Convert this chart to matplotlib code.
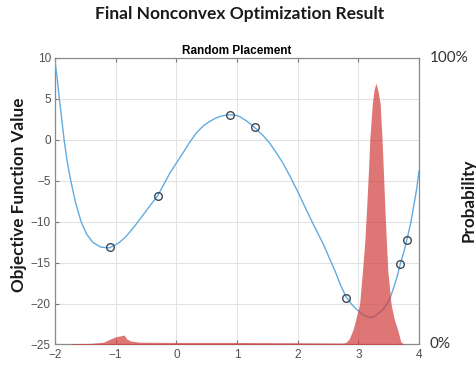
import matplotlib
matplotlib.use("Agg")
import matplotlib.pyplot as plt

# Objective function curve
curve_x = [-2.00, -1.96, -1.93, -1.89, -1.85, -1.80, -1.74, -1.66, -1.57, -1.48,
           -1.38, -1.25, -1.10, -0.95, -0.84, -0.72, -0.61, -0.50, -0.41, -0.31,
           -0.21, -0.11, 0.00, 0.11, 0.22, 0.33, 0.44, 0.55, 0.64, 0.72,
           0.80, 0.89, 0.97, 1.05, 1.17, 1.29, 1.42, 1.54, 1.65, 1.76,
           1.87, 2.00, 2.12, 2.27, 2.42, 2.52, 2.62, 2.71, 2.80, 2.89,
           2.97, 3.08, 3.19, 3.26, 3.33, 3.40, 3.47, 3.53, 3.58, 3.64,
           3.69, 3.75, 3.80, 3.86, 3.91, 3.96, 4.00]
curve_y = [9.6, 7.3, 5.1, 2.6, 0.0, -2.6, -5.0, -7.7, -10.0, -11.5,
           -12.5, -13.1, -13.2, -12.6, -11.9, -10.85, -9.8, -8.7, -7.8, -6.85,
           -5.5, -4.1, -2.85, -1.6, -0.3, 0.85, 1.68, 2.25, 2.62, 2.86,
           3.0, 3.07, 3.02, 2.82, 2.25, 1.51, 0.6, -0.41, -1.6, -2.87,
           -4.4, -6.3, -8.2, -10.5, -12.7, -14.4, -16.1, -17.8, -19.2, -20.1,
           -20.7, -21.4, -21.7, -21.6, -21.2, -20.8, -20.1, -19.2, -18.1, -16.7,
           -15.2, -13.7, -12.2, -10.3, -8.2, -6.1, -3.8]

# Final points
pts_x = [-1.10, -0.31, 0.89, 1.29, 2.80, 3.69, 3.80]
pts_y = [-13.1, -6.85, 3.07, 1.51, -19.3, -15.2, -12.2]

# Probability distribution of final points (fraction of full axis height)
prob_x = [-1.75, -1.70, -1.40, -1.20, -1.10, -1.00, -0.90, -0.86, -0.82, -0.75,
          -0.60, 0.00, 1.00, 2.00, 2.75, 2.80, 2.85, 2.91, 2.96, 3.02,
          3.07, 3.11, 3.14, 3.17, 3.19, 3.23, 3.26, 3.29, 3.32, 3.36,
          3.39, 3.41, 3.435, 3.46, 3.485, 3.54, 3.59, 3.65, 3.70, 3.75]
prob_y = [0.0, 0.003, 0.004, 0.008, 0.018, 0.027, 0.031, 0.033, 0.020, 0.012,
          0.008, 0.007, 0.007, 0.006, 0.005, 0.008, 0.02, 0.05, 0.09, 0.14,
          0.26, 0.37, 0.49, 0.62, 0.72, 0.84, 0.89, 0.912, 0.89, 0.84,
          0.72, 0.62, 0.49, 0.37, 0.26, 0.14, 0.09, 0.05, 0.01, 0.0]

x_ticks = [-2, -1, 0, 1, 2, 3, 4]
y_ticks = [-25, -20, -15, -10, -5, 0, 5, 10]

fig = plt.figure(figsize=(4.77, 3.68), dpi=100)
ax = fig.add_axes([0.1153, 0.0639, 0.7631, 0.7785])

ax.plot(curve_x, curve_y, color='#62ACE0', lw=1.0, zorder=3)
ax.plot(pts_x, pts_y, 'o', mfc='none', mec='#3C4858', ms=5.5, mew=1.0, zorder=4)

ax.set_xlim(-2, 4)
ax.set_ylim(-25, 10)
ax.set_xticks(x_ticks)
ax.set_yticks(y_ticks)
ax.grid(True, color='#e3e3e3', lw=0.8, zorder=0)
ax.set_axisbelow(True)
ax.tick_params(direction='in', length=3, width=0.8, colors='#7a7a7a',
               labelcolor='#505050', labelsize=8.5, top=True, right=True, pad=3)
for lab in ax.get_xticklabels() + ax.get_yticklabels():
    lab.set_family('Liberation Sans')
for s in ax.spines.values():
    s.set_color('#8a8a8a')
    s.set_linewidth(0.9)

ax2 = ax.twinx()
ax2.fill_between(prob_x, 0, prob_y, color='#D03C3C', alpha=0.7, lw=0, zorder=5)
ax2.set_ylim(0, 1)
ax2.set_yticks([])
for s in ax2.spines.values():
    s.set_visible(False)

ax.set_title('Random Placement', fontsize=8.5, fontweight='bold',
             family='Liberation Sans', pad=3)

fig.text(0.503, 0.962, 'Final Nonconvex Optimization Result', ha='center', va='center',
         fontsize=12.5, fontweight='bold', family='Lato', color='#1a1a1a')
fig.text(0.040, 0.47, 'Objective Function Value', ha='center', va='center',
         rotation=90, fontsize=12.3, fontweight='bold', family='Lato', color='#1a1a1a')
fig.text(0.982, 0.457, 'Probability', ha='center', va='center',
         rotation=90, fontsize=12.3, fontweight='bold', family='Lato', color='#1a1a1a')
fig.text(0.900, 0.843, '100%', ha='left', va='center', fontsize=11,
         family='Lato', color='#333333')
fig.text(0.900, 0.064, '0%', ha='left', va='center', fontsize=11,
         family='Lato', color='#333333')

fig.savefig('out.png', dpi=100)
